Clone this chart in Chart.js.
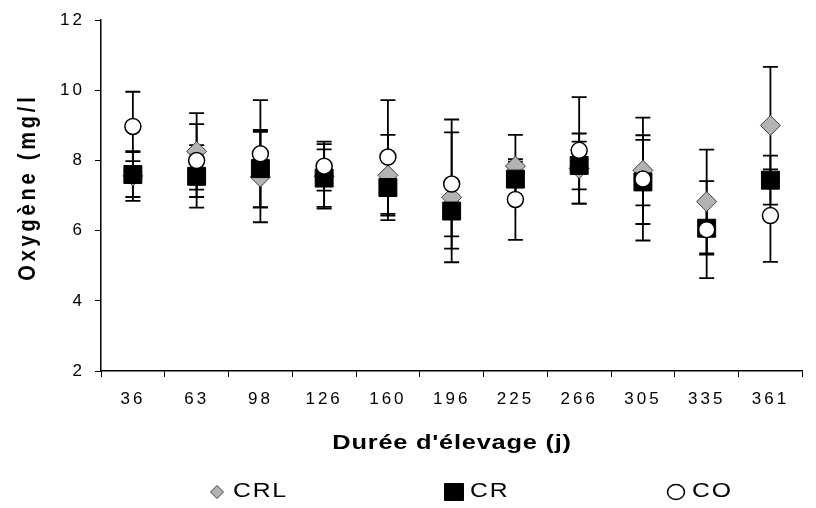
<!DOCTYPE html>
<html>
<head>
<meta charset="utf-8">
<script src="https://cdn.jsdelivr.net/npm/chart.js@4.4.1/dist/chart.umd.min.js"></script>
<style>
  html, body { margin: 0; padding: 0; background: #fff; }
  #wrap { width: 816px; height: 508px; }
</style>
</head>
<body>
<div id="wrap"><canvas id="chart"></canvas></div>
<script>
// Durée d'élevage (j)
var days = ['36', '63', '98', '126', '160', '196', '225', '266', '305', '335', '361'];

// Oxygène moyen (mg/l) et écart-type par lot
var crl   = [7.56, 8.26, 7.53, 7.55, 7.58, 6.95, 7.84, 7.77, 7.72, 6.83, 9.00];
var crlSd = [0.71, 1.09, 1.29, 0.92, 1.15, 1.85, 0.89, 1.00, 1.00, 1.48, 1.67];
var cr    = [7.60, 7.55, 7.77, 7.50, 7.23, 6.56, 7.47, 7.86, 7.39, 6.07, 7.44];
var crSd  = [0.64, 0.89, 1.10, 0.82, 0.93, 0.72, 0.50, 0.68, 1.20, 0.75, 0.70];
var co    = [8.97, 8.00, 8.19, 7.84, 8.10, 7.33, 6.89, 8.29, 7.47, 6.03, 6.43];
var coSd  = [0.99, 1.04, 1.53, 0.70, 1.62, 1.84, 1.15, 1.52, 1.75, 1.38, 1.32];

var yTicks = [2, 4, 6, 8, 10, 12];
var xTitle = "Durée d'élevage (j)";
var yTitle = 'Oxygène (mg/l';

var FONT = "'Liberation Sans', Arial, sans-serif";
Chart.defaults.font.family = FONT;
Chart.defaults.color = '#000';

// spaced-out tick labels like the original
var spacing = {
    id: 'spacing',
    beforeDraw: function (chart) {
        chart.ctx.letterSpacing = '3px';
    }
};

// vertical +/- sd bars with caps, drawn under the markers
var errorBars = {
    id: 'errorBars',
    beforeDatasetsDraw: function (chart) {
        var ctx = chart.ctx, y = chart.scales.y;
        ctx.save();
        ctx.strokeStyle = '#000';
        ctx.lineWidth = 1.8;
        chart.data.datasets.forEach(function (ds, i) {
            chart.getDatasetMeta(i).data.forEach(function (pt, j) {
                var top = y.getPixelForValue(ds.data[j] + ds.sd[j]);
                var bot = y.getPixelForValue(ds.data[j] - ds.sd[j]);
                ctx.beginPath();
                ctx.moveTo(pt.x, top);
                ctx.lineTo(pt.x, bot);
                ctx.moveTo(pt.x - 7.5, top);
                ctx.lineTo(pt.x + 7.5, top);
                ctx.moveTo(pt.x - 7.5, bot);
                ctx.lineTo(pt.x + 7.5, bot);
                ctx.stroke();
            });
        });
        ctx.restore();
    }
};

// axis titles and legend
var texts = {
    id: 'texts',
    afterDraw: function (chart) {
        var ctx = chart.ctx;
        var area = chart.chartArea;

        // x title
        ctx.save();
        ctx.fillStyle = '#000';
        ctx.font = 'bold 20px ' + FONT;
        ctx.letterSpacing = '0.6px';
        ctx.textAlign = 'center';
        ctx.textBaseline = 'alphabetic';
        ctx.translate((area.left + area.right) / 2, 449);
        ctx.scale(1.27, 1);
        ctx.fillText(xTitle, 0.3, 0);
        ctx.restore();

        // y title
        ctx.save();
        ctx.fillStyle = '#000';
        ctx.font = 'bold 20px ' + FONT;
        ctx.letterSpacing = '3.8px';
        ctx.textAlign = 'center';
        ctx.textBaseline = 'alphabetic';
        ctx.translate(35, 189);
        ctx.rotate(-Math.PI / 2);
        ctx.scale(1, 1.17);
        ctx.fillText(yTitle, 1.9, 0);
        ctx.restore();

        // legend
        var items = [
            { x: 217, tx: 233 },
            { x: 454, tx: 470 },
            { x: 676, tx: 692 }
        ];
        var my = 492;
        chart.data.datasets.forEach(function (ds, i) {
            var it = items[i];
            ctx.save();
            ctx.lineWidth = 1;
            ctx.fillStyle = ds.pointBackgroundColor;
            ctx.strokeStyle = ds.pointBorderColor;
            ctx.beginPath();
            if (ds.pointStyle === 'rectRot') {
                ctx.moveTo(it.x - 6.5, my);
                ctx.lineTo(it.x, my - 6.5);
                ctx.lineTo(it.x + 6.5, my);
                ctx.lineTo(it.x, my + 6.5);
                ctx.closePath();
            } else if (ds.pointStyle === 'rect') {
                ctx.rect(it.x - 9.5, my - 8.5, 19, 17);
            } else {
                ctx.lineWidth = 1.5;
                ctx.ellipse(it.x, my, 8.5, 7.5, 0, 0, Math.PI * 2);
            }
            ctx.fill();
            ctx.stroke();
            ctx.restore();

            ctx.save();
            ctx.fillStyle = '#000';
            ctx.font = '19.5px ' + FONT;
            ctx.letterSpacing = '1.4px';
            ctx.textAlign = 'left';
            ctx.textBaseline = 'alphabetic';
            ctx.translate(it.tx, 497);
            ctx.scale(1.27, 1);
            ctx.fillText(ds.label, 0, 0);
            ctx.restore();
        });
    }
};

var config = {
    type: 'line',
    data: {
        labels: days,
        datasets: [{
            label: 'CRL',
            data: crl,
            sd: crlSd,
            order: 2,
            showLine: false,
            pointStyle: 'rectRot',
            pointRadius: 10,
            pointBackgroundColor: '#b3b3b3',
            pointBorderColor: '#404040',
            pointBorderWidth: 1
        }, {
            label: 'CR',
            data: cr,
            sd: crSd,
            order: 1,
            showLine: false,
            pointStyle: 'rect',
            pointRadius: 12.7,
            pointBackgroundColor: '#000',
            pointBorderColor: '#000',
            pointBorderWidth: 1
        }, {
            label: 'CO',
            data: co,
            sd: coSd,
            order: 0,
            showLine: false,
            pointStyle: 'circle',
            pointRadius: 8,
            pointBackgroundColor: '#fff',
            pointBorderColor: '#000',
            pointBorderWidth: 1.5
        }]
    },
    options: {
        responsive: true,
        maintainAspectRatio: false,
        animation: false,
        events: [],
        layout: {
            padding: { top: 18, right: -6, left: 0, bottom: 0 }
        },
        plugins: {
            legend: { display: false },
            tooltip: { enabled: false }
        },
        scales: {
            x: {
                offset: true,
                grid: {
                    offset: true,
                    drawOnChartArea: false,
                    color: '#000',
                    tickLength: 6
                },
                border: { color: '#000', width: 1.5 },
                ticks: {
                    font: { size: 17 },
                    padding: 12,
                    maxRotation: 0,
                    autoSkip: false
                },
                afterFit: function (scale) { scale.height = 137; }
            },
            y: {
                min: 2,
                max: 12,
                afterBuildTicks: function (scale) {
                    scale.ticks = yTicks.map(function (v) { return { value: v }; });
                },
                grid: {
                    drawOnChartArea: false,
                    color: '#000',
                    tickLength: 6
                },
                border: { color: '#000', width: 1.5 },
                ticks: {
                    font: { size: 17 },
                    padding: 10
                },
                afterFit: function (scale) { scale.width = 101; }
            }
        }
    },
    plugins: [spacing, errorBars, texts]
};

window.onload = function () {
    window.myChart = new Chart(document.getElementById('chart'), config);
};
</script>
</body>
</html>
